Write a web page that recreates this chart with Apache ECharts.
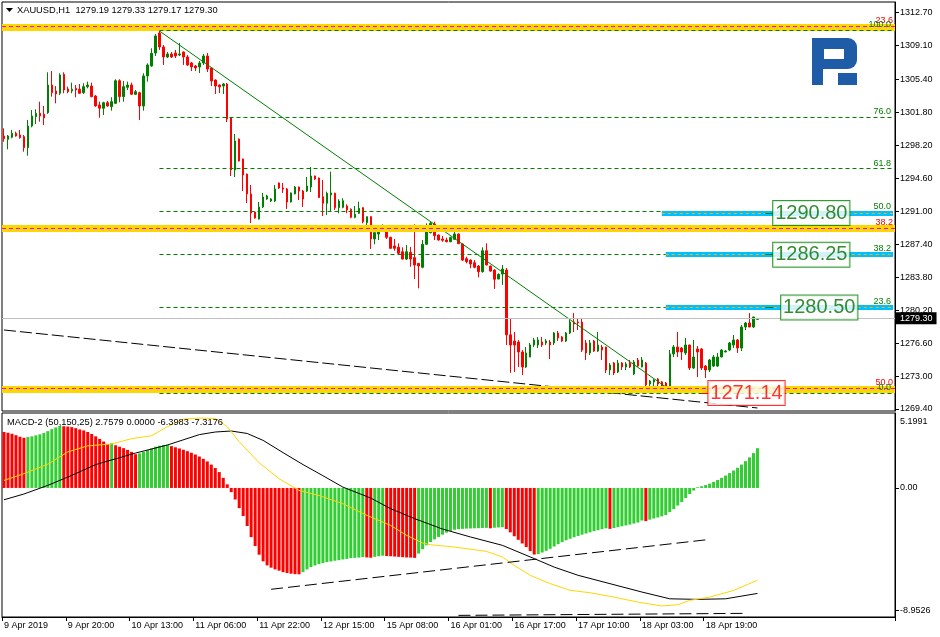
<!DOCTYPE html>
<html><head><meta charset="utf-8">
<script src="https://cdn.jsdelivr.net/npm/echarts@6/dist/echarts.min.js"></script>
<style>html,body{margin:0;padding:0;background:#fff}#c{width:940px;height:637px}</style>
</head><body><div id="c"></div>
<script>
// ---------------- DATA ----------------
const symbolName = 'XAUUSD,H1';
const timeLabels = ['9 Apr 2019','9 Apr 20:00','10 Apr 13:00','11 Apr 06:00','11 Apr 22:00','12 Apr 15:00','15 Apr 08:00','16 Apr 01:00','16 Apr 17:00','17 Apr 10:00','18 Apr 03:00','18 Apr 19:00'];
// [open, high, low, close]
const candles = [
[1299.22,1300.06,1298.60,1298.93],[1298.86,1299.33,1297.77,1299.22],[1299.08,1299.88,1298.97,1299.52],[1299.52,1299.69,1299.15,1299.22],[1299.33,1299.88,1298.93,1299.04],
[1299.15,1299.33,1297.51,1297.94],[1297.94,1300.97,1297.07,1300.31],[1300.31,1302.06,1300.17,1301.41],[1301.33,1302.14,1300.53,1301.70],[1301.70,1302.97,1300.79,1301.41],
[1301.60,1302.50,1300.42,1301.20],[1301.77,1306.18,1301.63,1304.79],[1304.79,1306.32,1303.52,1303.95],[1304.14,1304.68,1302.79,1303.81],[1303.89,1306.07,1303.70,1305.89],
[1305.96,1306.18,1303.89,1304.25],[1304.36,1304.61,1303.89,1304.06],[1304.14,1305.05,1303.89,1304.33],[1304.43,1304.79,1303.45,1304.25],[1304.33,1304.90,1303.81,1303.89],
[1303.95,1304.98,1303.81,1304.61],[1304.61,1305.16,1304.43,1304.79],[1304.68,1305.05,1303.45,1303.52],[1303.59,1303.70,1302.42,1302.50],[1302.61,1302.97,1301.22,1302.25],
[1302.25,1302.97,1301.52,1302.86],[1302.86,1303.05,1302.42,1302.50],[1302.42,1303.45,1301.99,1302.97],[1302.79,1305.42,1302.72,1305.26],[1305.26,1305.42,1302.90,1303.52],
[1303.52,1305.23,1302.97,1304.61],[1304.54,1305.16,1304.25,1304.79],[1304.79,1305.05,1303.70,1303.78],[1303.78,1304.25,1303.70,1304.06],[1303.95,1304.06,1300.97,1302.50],
[1302.50,1306.07,1301.99,1305.78],[1305.78,1307.16,1305.16,1306.98],[1306.87,1308.80,1306.79,1308.26],[1308.29,1310.37,1307.96,1310.15],[1310.47,1310.80,1308.62,1308.95],
[1308.95,1309.16,1306.98,1307.85],[1307.85,1308.40,1307.74,1308.18],[1308.18,1308.40,1307.74,1307.85],[1308.29,1308.62,1307.74,1307.96],[1308.07,1309.38,1307.96,1308.18],
[1308.40,1308.45,1306.98,1307.85],[1307.85,1308.07,1306.87,1306.98],[1307.20,1307.31,1306.32,1306.76],[1306.87,1306.98,1306.32,1306.65],[1306.76,1307.42,1306.10,1307.20],
[1307.20,1308.18,1306.98,1307.96],[1307.96,1308.29,1306.21,1306.54],[1306.65,1306.76,1304.68,1305.23],[1305.34,1305.40,1303.81,1304.68],[1304.79,1304.85,1303.92,1304.58],
[1304.68,1305.01,1303.81,1304.90],[1304.90,1305.01,1300.75,1301.08],[1301.19,1301.25,1294.85,1295.51],[1295.51,1299.44,1294.74,1298.68],[1298.89,1298.95,1296.45,1296.49],
[1296.71,1296.75,1293.21,1294.96],[1295.07,1295.10,1291.90,1292.89],[1292.89,1293.87,1289.72,1290.81],[1290.92,1290.98,1290.20,1290.26],[1290.15,1292.01,1290.10,1291.47],
[1291.47,1293.00,1291.36,1292.56],[1292.34,1292.80,1292.25,1292.67],[1292.12,1292.45,1292.01,1292.34],[1292.12,1293.87,1292.01,1293.43],[1294.09,1294.15,1293.43,1293.54],
[1293.54,1294.09,1293.00,1293.43],[1293.43,1293.54,1291.25,1292.01],[1292.01,1293.05,1291.95,1293.00],[1292.89,1293.76,1292.85,1293.65],[1293.65,1293.70,1292.23,1293.21],
[1293.21,1293.32,1291.47,1292.34],[1293.21,1294.74,1293.10,1293.76],[1293.65,1295.84,1293.10,1294.85],[1294.85,1294.90,1294.41,1294.52],[1294.63,1294.68,1292.45,1292.50],
[1292.59,1294.41,1290.48,1291.87],[1291.87,1293.14,1290.59,1292.96],[1292.78,1295.32,1290.95,1293.00],[1292.96,1293.03,1291.14,1291.39],[1291.39,1292.31,1290.78,1292.12],
[1291.43,1292.42,1291.32,1292.15],[1291.57,1291.76,1290.78,1291.14],[1291.21,1291.32,1290.23,1290.34],[1290.34,1291.57,1290.23,1290.67],[1290.78,1292.05,1290.70,1291.32],
[1291.39,1291.45,1289.68,1289.86],[1289.75,1290.41,1288.77,1290.41],[1290.41,1290.45,1286.88,1287.97],[1287.97,1289.50,1287.39,1288.66],[1288.51,1289.50,1287.86,1289.31],
[1289.17,1289.57,1289.14,1289.42],[1289.42,1289.50,1287.97,1288.15],[1288.15,1288.22,1286.91,1286.95],[1287.21,1287.97,1286.69,1286.95],[1287.06,1287.50,1286.30,1286.41],
[1286.58,1287.06,1285.75,1285.78],[1285.78,1287.31,1285.67,1286.58],[1286.52,1287.10,1284.94,1285.78],[1285.93,1289.57,1283.60,1285.13],[1285.31,1285.35,1282.58,1285.02],
[1284.88,1287.86,1284.77,1287.39],[1287.39,1289.68,1287.31,1288.77],[1288.66,1289.86,1288.59,1289.68],[1289.61,1289.86,1287.86,1288.33],[1288.41,1288.45,1287.78,1287.86],
[1287.97,1288.30,1287.67,1287.83],[1287.86,1288.12,1287.61,1287.67],[1287.67,1288.22,1287.62,1288.12],[1287.94,1288.88,1287.86,1288.52],[1288.52,1288.56,1287.42,1287.45],
[1287.42,1287.50,1285.56,1285.67],[1285.82,1286.04,1285.31,1285.49],[1285.67,1285.75,1284.77,1285.24],[1285.38,1285.67,1284.77,1284.88],[1285.02,1285.13,1283.78,1284.40],
[1284.40,1287.06,1284.29,1286.69],[1286.69,1287.50,1285.10,1285.13],[1285.02,1285.06,1284.40,1284.47],[1284.58,1284.66,1282.51,1283.57],[1283.60,1284.22,1283.57,1284.11],
[1284.14,1285.13,1282.95,1284.69],[1284.58,1284.80,1276.39,1277.50],[1277.50,1279.34,1273.35,1276.39],[1276.83,1277.81,1273.44,1276.39],[1276.72,1276.94,1273.99,1275.63],
[1275.63,1275.84,1273.11,1273.99],[1273.99,1276.17,1273.88,1275.52],[1275.08,1276.61,1275.05,1276.39],[1276.39,1277.16,1276.17,1276.94],[1276.39,1277.26,1276.06,1276.94],
[1276.72,1277.26,1276.17,1276.39],[1276.61,1277.04,1276.39,1276.83],[1276.72,1276.94,1274.86,1276.39],[1276.61,1277.81,1276.39,1277.70],[1277.70,1277.92,1276.83,1277.16],
[1277.26,1277.37,1276.72,1276.83],[1276.83,1277.81,1276.72,1277.70],[1277.70,1279.12,1277.59,1278.90],[1278.90,1279.88,1277.81,1278.68],[1278.90,1279.23,1278.03,1278.79],
[1278.90,1279.34,1275.63,1275.84],[1276.61,1276.94,1274.75,1275.52],[1275.52,1276.94,1275.30,1276.61],[1276.83,1276.94,1275.63,1275.73],[1275.73,1277.81,1275.63,1276.39],
[1276.17,1276.39,1274.75,1275.84],[1276.17,1276.20,1273.33,1273.66],[1273.66,1274.42,1273.11,1274.20],[1274.42,1274.53,1273.11,1273.33],[1273.44,1274.75,1273.33,1274.42],
[1274.42,1274.53,1273.66,1273.99],[1273.99,1274.53,1273.66,1274.31],[1274.42,1274.75,1273.88,1273.99],[1273.22,1274.75,1273.11,1274.53],[1274.75,1274.97,1273.99,1274.09],
[1273.99,1275.08,1273.95,1274.75],[1274.42,1274.53,1271.91,1272.02],[1272.13,1272.57,1271.80,1272.46],[1272.35,1272.67,1271.91,1272.57],[1272.67,1272.78,1271.91,1272.13],
[1272.35,1272.46,1271.69,1271.80],[1272.24,1272.35,1271.58,1271.80],[1271.80,1275.84,1271.14,1275.41],[1275.41,1276.39,1275.08,1276.17],[1276.17,1277.81,1275.08,1275.63],
[1276.06,1276.17,1274.75,1275.63],[1275.52,1277.16,1275.30,1276.39],[1276.39,1276.42,1273.66,1273.88],[1273.88,1276.94,1273.77,1275.08],[1275.95,1276.28,1272.89,1275.63],
[1275.95,1276.06,1273.66,1273.88],[1274.09,1274.20,1272.78,1273.66],[1273.66,1274.86,1273.44,1274.75],[1274.09,1275.30,1273.99,1275.08],[1274.09,1275.52,1273.99,1275.08],
[1275.08,1275.95,1275.05,1275.84],[1275.63,1275.84,1275.60,1275.73],[1275.84,1276.72,1275.73,1276.61],[1276.39,1277.48,1276.06,1276.94],[1276.94,1277.04,1275.52,1276.06],
[1276.06,1278.57,1275.73,1278.36],[1278.36,1278.90,1278.03,1278.79],[1278.79,1279.88,1278.33,1278.36],[1278.36,1279.48,1278.25,1279.45],[1279.19,1279.33,1279.17,1279.30]
];
const histogram = [
3.88,3.83,3.76,3.66,3.55,
3.48,3.53,3.58,3.65,3.72,3.81,3.94,4.08,4.20,4.30,
4.28,4.26,4.22,4.15,4.06,3.99,3.88,3.74,3.58,3.40,3.22,3.05,
3.10,
2.96,2.86,2.76,2.64,2.50,2.34,
2.40,2.50,2.62,2.74,2.86,2.93,2.98,3.00,
2.90,2.82,2.74,2.65,2.55,2.44,2.32,2.18,2.02,1.84,1.62,1.38,1.10,0.70,0.25,
-0.29,-0.80,-1.40,-1.95,-2.64,-3.41,-4.03,-4.63,-5.09,-5.37,-5.53,-5.65,-5.74,-5.84,-5.90,-5.95,-5.98,-5.99,
-5.84,-5.65,-5.49,-5.38,-5.28,-5.21,-5.14,-5.10,-5.05,-5.01,-4.96,-4.92,-4.87,-4.85,-4.83,-4.80,
-4.82,-4.84,
-4.78,-4.74,-4.70,
-4.72,-4.74,-4.76,-4.78,-4.80,-4.82,-4.83,-4.85,
-4.55,-4.25,-3.98,-3.75,-3.57,-3.40,-3.24,-3.10,-2.98,-2.90,-2.86,-2.84,-2.82,-2.81,-2.80,-2.79,-2.78,-2.77,
-2.80,
-2.76,-2.74,-2.72,
-2.85,-3.08,-3.35,-3.60,-3.85,-4.10,-4.38,-4.62,
-4.58,-4.48,-4.36,-4.22,-4.06,-3.90,-3.76,-3.63,-3.52,-3.42,-3.33,-3.24,-3.16,-3.08,-3.00,-2.93,-2.86,-2.80,
-2.84,
-2.78,-2.72,-2.66,-2.60,-2.54,-2.47,-2.40,-2.26,
-2.30,
-2.20,-2.12,-2.05,-1.97,-1.88,-1.68,-1.46,-1.22,-0.98,-0.70,-0.42,-0.18,
0.05,0.12,0.20,0.30,0.42,0.55,0.70,0.86,1.03,1.21,1.40,1.62,1.86,2.12,2.42,2.7579
];
// [bar index, value] read along the black and the yellow MACD-2 lines
const macdMain = [[0,-0.82],[5,-0.42],[11,0.18],[17,0.87],[23,1.62],[33,2.42],[41,2.98],[49,3.70],[53,3.88],[57,3.95],[61,3.78],[65,3.30],[70,2.45],[75,1.62],[80,0.85],[85,0.06],[92,-0.70],[97,-1.44],[103,-2.13],[110,-2.85],[117,-3.40],[125,-3.98],[133,-4.90],[138,-5.49],[144,-6.06],[152,-6.64],[160,-7.22],[167,-7.69],[174,-7.73],[181,-7.69],[189,-7.3176]];
const macdSignal = [[0,0.52],[5,0.99],[11,1.65],[16,2.50],[21,2.92],[27,3.05],[32,3.42],[37,3.62],[41,4.25],[45,4.78],[49,4.85],[53,4.82],[56,4.25],[59,3.21],[64,1.75],[69,0.64],[74,-0.17],[79,-0.52],[85,-1.09],[91,-1.90],[97,-2.60],[101,-3.29],[105,-3.82],[107,-3.94],[113,-4.10],[121,-4.40],[125,-4.79],[128,-5.37],[132,-6.06],[137,-6.64],[142,-7.10],[147,-7.27],[153,-7.57],[159,-7.92],[165,-8.19],[169,-8.10],[172,-7.80],[177,-7.57],[183,-7.11],[189,-6.3983]];
const priceTicks = [1312.70,1309.10,1305.40,1301.80,1298.20,1294.60,1291.00,1287.40,1283.80,1280.20,1276.60,1273.00,1269.40];
const macdTickText = ['5.1991','0.00','-8.9526'];
const macdTickAt = [4.62, 0, -8.47];
const macdInfo = 'MACD-2 (50,150,25) 2.7579 0.0000 -6.3983 -7.3176';
const fibGreen = [['100.0',1310.80],['76.0',1301.28],['61.8',1295.65],['50.0',1290.97],['38.2',1286.29],['23.6',1280.55],['0.0',1271.14]];
const fibRed = [['23.6',1311.21],['38.2',1289.15],['50.0',1271.64]];
const bandLevels = [1311.10, 1289.15, 1271.60];
const blueLevels = [1290.80, 1286.25, 1280.50];
const redLevel = 1271.14;
const lastPrice = 1279.30;
const trendGreen = [[39,1310.69],[167,1271.50]];
const trendBlack = [[0,1278.03],[189,1269.51]];
const macdTrendA = [[67,-7.03],[177,-3.57]];
const macdTrendB = [[114,-8.84],[186,-8.70]];

// ---------------- CHART ----------------
const N = 224;
const cats = [];
for (let i = 0; i < N; i++) cats.push('b' + i);
const FONT = 'Liberation Sans';
const GREEN = '#008000', RED = '#FF0000';
const showTick = (i) => i % 16 === 0 && i / 16 < timeLabels.length;

const last = candles[candles.length - 1];
const titleText = symbolName + '  ' + last.map(v => v.toFixed(2)).join(' ');

function seg(from, to, price, lineStyle, label) {
  return [{coord: [from, price], lineStyle, label: label || {show: false}}, {coord: [to, price]}];
}

const fibLines = [];
fibRed.forEach(([t, p]) => fibLines.push({yAxis: p, lineStyle: {color: '#FF00FF', type: [4, 3], width: 1},
  label: {show: true, position: 'insideEndTop', formatter: t, color: RED, fontSize: 9, fontFamily: FONT, distance: [2, 1]}}));
fibGreen.forEach(([t, p]) => fibLines.push(seg(39, N - 1, p, {color: GREEN, type: [4, 3], width: 1},
  {show: true, position: 'insideEndTop', formatter: t, color: GREEN, fontSize: 9, fontFamily: FONT, distance: [2, 1]})));
const blueStart = [165, 166, 166];
blueLevels.forEach((p, k) => fibLines.push(seg(blueStart[k], N - 1, p, {color: '#00BFFF', type: 'solid', width: 5})));
blueLevels.forEach((p, k) => fibLines.push(seg(blueStart[k], N - 1, p, {color: '#FFB000', type: [3, 3], width: 1})));
fibLines.push({yAxis: lastPrice, lineStyle: {color: '#C0C0C0', type: 'solid', width: 1},
  label: {show: true, position: 'end', formatter: lastPrice.toFixed(2), backgroundColor: '#000', color: '#fff',
    fontSize: 9, fontFamily: FONT, padding: [2, 4, 1, 4], distance: 1}});

const connectors = [];
blueLevels.forEach(p => connectors.push(seg(191, 193, p, {color: GREEN, type: 'solid', width: 1})));
connectors.push(seg(175, 177, redLevel, {color: RED, type: 'solid', width: 1}));

const tagX = [202, 202, 204];
const tagData = blueLevels.map((p, k) => ({value: [tagX[k], p], label: {color: '#007000', borderColor: GREEN, offset: [2, 0]}}));
tagData.push({value: [186, redLevel], label: {color: RED, borderColor: RED, offset: [1, 0]}});

const option = {
  animation: false,
  backgroundColor: '#fff',
  grid: [
    {left: 2, right: 45, top: 2, height: 409, show: true, borderColor: '#000', borderWidth: 1, backgroundColor: '#fff'},
    {left: 2, right: 45, top: 413, height: 204, show: true, borderColor: '#000', borderWidth: 1, backgroundColor: '#fff'}
  ],
  xAxis: [
    {type: 'category', gridIndex: 0, data: cats, boundaryGap: true, axisLine: {show: false}, axisTick: {show: false}, axisLabel: {show: false}, splitLine: {show: false}},
    {type: 'category', gridIndex: 1, data: cats, boundaryGap: true, position: 'bottom',
      axisLine: {show: true, onZero: false, lineStyle: {color: '#000'}},
      axisTick: {show: true, interval: showTick, length: 4, lineStyle: {color: '#000'}},
      axisLabel: {show: true, interval: showTick, align: 'left', margin: 4, fontSize: 9, fontFamily: FONT, color: '#000',
        formatter: (v, i) => (i % 16 === 0 && timeLabels[i / 16]) ? timeLabels[i / 16] : ''},
      splitLine: {show: false}}
  ],
  yAxis: [
    {type: 'value', gridIndex: 0, position: 'right', min: 1269.18, max: 1313.86, scale: true,
      axisLine: {show: true, lineStyle: {color: '#000'}},
      axisTick: {show: true, length: 4, customValues: priceTicks, lineStyle: {color: '#000'}},
      axisLabel: {show: true, customValues: priceTicks, formatter: v => v.toFixed(2), margin: 5, fontSize: 9, fontFamily: FONT, color: '#000'},
      splitLine: {show: false}},
    {type: 'value', gridIndex: 1, position: 'right', min: -8.9526, max: 5.1991,
      axisLine: {show: true, lineStyle: {color: '#000'}},
      axisTick: {show: true, length: 4, customValues: macdTickAt.slice(1), lineStyle: {color: '#000'}},
      axisLabel: {show: true, customValues: macdTickAt, margin: 5, fontSize: 9, fontFamily: FONT, color: '#000',
        formatter: v => macdTickText[macdTickAt.indexOf(v)] || ''},
      splitLine: {show: false}}
  ],
  series: [
    {type: 'line', name: 'bands', xAxisIndex: 0, yAxisIndex: 0, data: [], z: 1, silent: true,
      markLine: {symbol: 'none', silent: true, animation: false,
        data: bandLevels.map(p => ({yAxis: p, lineStyle: {color: '#FFD700', width: 7, type: 'solid'}, label: {show: false}}))}},
    {type: 'line', name: 'levels', xAxisIndex: 0, yAxisIndex: 0, data: [], z: 2, silent: true,
      markLine: {symbol: 'none', silent: true, animation: false, data: fibLines}},
    {type: 'candlestick', name: symbolName, xAxisIndex: 0, yAxisIndex: 0, z: 3, barWidth: 2,
      data: candles.map(c => [c[0], c[3], c[2], c[1]]),
      itemStyle: {color: GREEN, color0: RED, borderColor: GREEN, borderColor0: RED, borderWidth: 1}},
    {type: 'line', name: 'trendGreen', xAxisIndex: 0, yAxisIndex: 0, z: 4, data: trendGreen, symbol: 'none',
      lineStyle: {color: GREEN, width: 1}},
    {type: 'line', name: 'trendBlack', xAxisIndex: 0, yAxisIndex: 0, z: 4, data: trendBlack, symbol: 'none',
      lineStyle: {color: '#000', width: 1, type: [12, 4]}},
    {type: 'line', name: 'connectors', xAxisIndex: 0, yAxisIndex: 0, data: [], z: 5, silent: true,
      markLine: {symbol: 'none', silent: true, animation: false, data: connectors}},
    {type: 'scatter', name: 'tags', xAxisIndex: 0, yAxisIndex: 0, z: 6, symbol: 'rect', symbolSize: 1,
      itemStyle: {color: 'rgba(0,0,0,0)'}, data: tagData,
      label: {show: true, position: 'inside', formatter: p => p.value[1].toFixed(2), fontSize: 20, fontFamily: FONT,
        backgroundColor: '#fff', borderWidth: 1, padding: [2, 2, 0, 2], lineHeight: 22}},
    {type: 'bar', name: 'hist', xAxisIndex: 1, yAxisIndex: 1, z: 1, barWidth: 3, data: histogram,
      itemStyle: {color: p => (p.dataIndex > 0 && histogram[p.dataIndex] >= histogram[p.dataIndex - 1]) ? '#32CD32' : RED}},
    {type: 'line', name: 'main', xAxisIndex: 1, yAxisIndex: 1, z: 2, data: macdMain, symbol: 'none', lineStyle: {color: '#000', width: 1}},
    {type: 'line', name: 'signal', xAxisIndex: 1, yAxisIndex: 1, z: 2, data: macdSignal, symbol: 'none', lineStyle: {color: '#FFD700', width: 1}},
    {type: 'line', name: 'trA', xAxisIndex: 1, yAxisIndex: 1, z: 3, data: macdTrendA, symbol: 'none', lineStyle: {color: '#000', width: 1, type: [12, 5]}},
    {type: 'line', name: 'trB', xAxisIndex: 1, yAxisIndex: 1, z: 3, data: macdTrendB, symbol: 'none', lineStyle: {color: '#000', width: 1, type: [12, 5]}}
  ],
  graphic: [
    {type: 'polygon', shape: {points: [[6, 8], [13, 8], [9.5, 12]]}, style: {fill: '#000'}, z: 100},
    {type: 'text', x: 17, y: 10, z: 100, style: {text: titleText, font: '9.3px "Liberation Sans"', fill: '#000', verticalAlign: 'middle'}},
    {type: 'text', x: 7, y: 422, z: 100, style: {text: macdInfo, font: '9.3px "Liberation Sans"', fill: '#000', verticalAlign: 'middle'}},
    {type: 'group', z: 100, children: [
      {type: 'rect', shape: {x: 812, y: 38, width: 11, height: 47}, style: {fill: '#1E5CA8'}},
      {type: 'rect', shape: {x: 812, y: 38, width: 45, height: 31, r: [0, 9, 9, 0]}, style: {fill: '#1E5CA8'}},
      {type: 'rect', shape: {x: 824, y: 49, width: 20, height: 10}, style: {fill: '#fff'}},
      {type: 'rect', shape: {x: 838, y: 73, width: 19, height: 12}, style: {fill: '#1E5CA8'}}
    ]}
  ]
};
const chart = echarts.init(document.getElementById('c'));
chart.setOption(option);
</script>
</body></html>
